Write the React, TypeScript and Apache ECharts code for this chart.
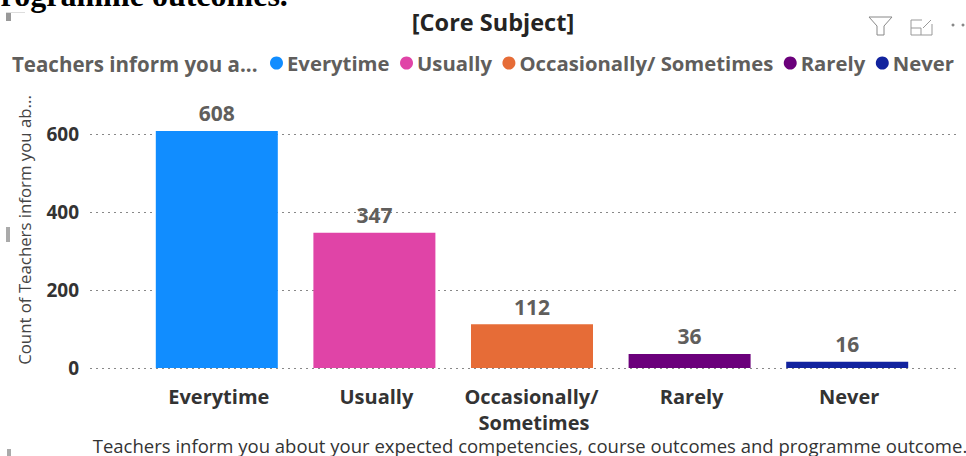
import React, { useEffect, useRef } from "react";
import * as echarts from "echarts";

const categories = ["Everytime", "Usually", "Occasionally/ Sometimes", "Rarely", "Never"];
const values = [608, 347, 112, 36, 16];
const colors = ["#118DFF", "#E044A7", "#E66C37", "#6B007B", "#12239E"];
const yTicks = [0, 200, 400, 600];
const title = "[Core Subject]";
const legendTitle = "Teachers inform you a...";
const yName = "Count of Teachers inform you ab...";
const xName = "Teachers inform you about your expected competencies, course outcomes and programme outcome.";
const heading = "Programme outcomes.";

const FONT = "'Open Sans', 'Noto Sans', sans-serif";

export default function App() {
  const ref = useRef<HTMLDivElement>(null);
  useEffect(() => {
    document.body.style.margin = "0";
    const chart = echarts.init(ref.current!, null, { renderer: "svg" });
    chart.setOption({
      animation: false,
      backgroundColor: "#fff",
      grid: [
        { left: 138, width: 788, top: 56, height: 312 },
        { left: 90, width: 870, top: 56, height: 312 },
      ],
      xAxis: [
        {
          type: "category",
          gridIndex: 0,
          data: categories,
          axisLine: { show: false },
          axisTick: { show: false },
          axisLabel: {
            color: "#333333",
            fontFamily: FONT,
            fontWeight: "bold",
            fontSize: 20,
            lineHeight: 26,
            margin: 15,
            width: 150,
            overflow: "break",
            interval: 0,
            padding: [0, 0, 0, 4],
          },
        },
        { type: "category", gridIndex: 1, data: categories, show: false },
      ],
      yAxis: [
        { type: "value", gridIndex: 0, min: 0, max: 800, interval: 200, show: false, splitLine: { show: false } },
        {
          type: "value",
          gridIndex: 1,
          min: 0,
          max: 800,
          interval: 200,
          axisLine: { show: false },
          axisTick: { show: false },
          axisLabel: {
            color: "#333333",
            fontFamily: FONT,
            fontWeight: "bold",
            fontSize: 19,
            margin: 11,
            showMaxLabel: false,
            formatter: (v: number) => (yTicks.includes(v) ? String(v) : ""),
          },
          splitLine: {
            show: true,
            showMaxLine: false,
            lineStyle: { color: "#888888", type: [2, 4], width: 1.2 },
          },
        },
      ],
      legend: {
        left: 270,
        top: 53,
        padding: 0,
        itemWidth: 13,
        itemHeight: 13,
        itemGap: 10.5,
        icon: "circle",
        selectedMode: false,
        data: categories,
        textStyle: {
          color: "#605E5C",
          fontFamily: FONT,
          fontWeight: "bold",
          fontSize: 20.3,
          padding: [0, 0, 0, -1],
        },
      },
      series: categories.map((name, i) => ({
        name,
        type: "bar",
        stack: "all",
        xAxisIndex: 0,
        yAxisIndex: 0,
        barWidth: 122,
        itemStyle: { color: colors[i] },
        data: categories.map((_, j) => (j === i ? values[i] : null)),
        label: {
          show: true,
          position: "top",
          distance: 7,
          color: "#605E5C",
          fontFamily: FONT,
          fontWeight: "bold",
          fontSize: 21,
          formatter: (p: any) => (p.value == null ? "" : String(p.value)),
        },
      })),
      graphic: [
        { type: "text", x: -19, y: -21, style: { text: heading, fill: "#000", font: "bold 32px 'Liberation Serif', serif" } },
        { type: "text", x: 493, y: 22, style: { text: title, fill: "#252423", font: `bold 23.5px ${FONT}`, align: "center", verticalAlign: "middle" } },
        { type: "text", x: 12, y: 64, style: { text: legendTitle, fill: "#605E5C", font: `bold 20.5px ${FONT}`, verticalAlign: "middle" } },
        { type: "text", x: 24, y: 230, rotation: Math.PI / 2, style: { text: yName, fill: "#444444", font: `16.8px ${FONT}`, align: "center", verticalAlign: "middle" } },
        { type: "text", x: 530, y: 445, style: { text: xName, fill: "#333333", font: `18.5px ${FONT}`, align: "center", verticalAlign: "middle" } },
        { type: "rect", shape: { x: 6, y: 13, width: 5, height: 8 }, style: { fill: "#999" } },
        { type: "rect", shape: { x: 6, y: 12, width: 19, height: 1 }, style: { fill: "#ddd" } },
        { type: "rect", shape: { x: 6, y: 227, width: 4, height: 15 }, style: { fill: "#aaa" } },
        { type: "rect", shape: { x: 7, y: 449, width: 4, height: 7 }, style: { fill: "#aaa" } },
        { type: "polygon", shape: { points: [[869, 17], [892, 17], [884, 26], [884, 35], [877, 35], [877, 26]] }, style: { fill: "none", stroke: "#888", lineWidth: 1 } },
        { type: "polyline", shape: { points: [[922, 20], [911, 20], [911, 35], [932, 35], [932, 24]] }, style: { fill: "none", stroke: "#999", lineWidth: 1 } },
        { type: "polyline", shape: { points: [[911, 28], [921, 28], [921, 35]] }, style: { fill: "none", stroke: "#999", lineWidth: 1 } },
        { type: "polyline", shape: { points: [[923, 28], [931, 20]] }, style: { fill: "none", stroke: "#999", lineWidth: 1 } },
        { type: "circle", shape: { cx: 953, cy: 25, r: 1.5 }, style: { fill: "#888" } },
        { type: "circle", shape: { cx: 963, cy: 25, r: 1.5 }, style: { fill: "#888" } },
      ],
    });
    return () => chart.dispose();
  }, []);
  return <div ref={ref} style={{ width: 966, height: 456 }} />;
}
